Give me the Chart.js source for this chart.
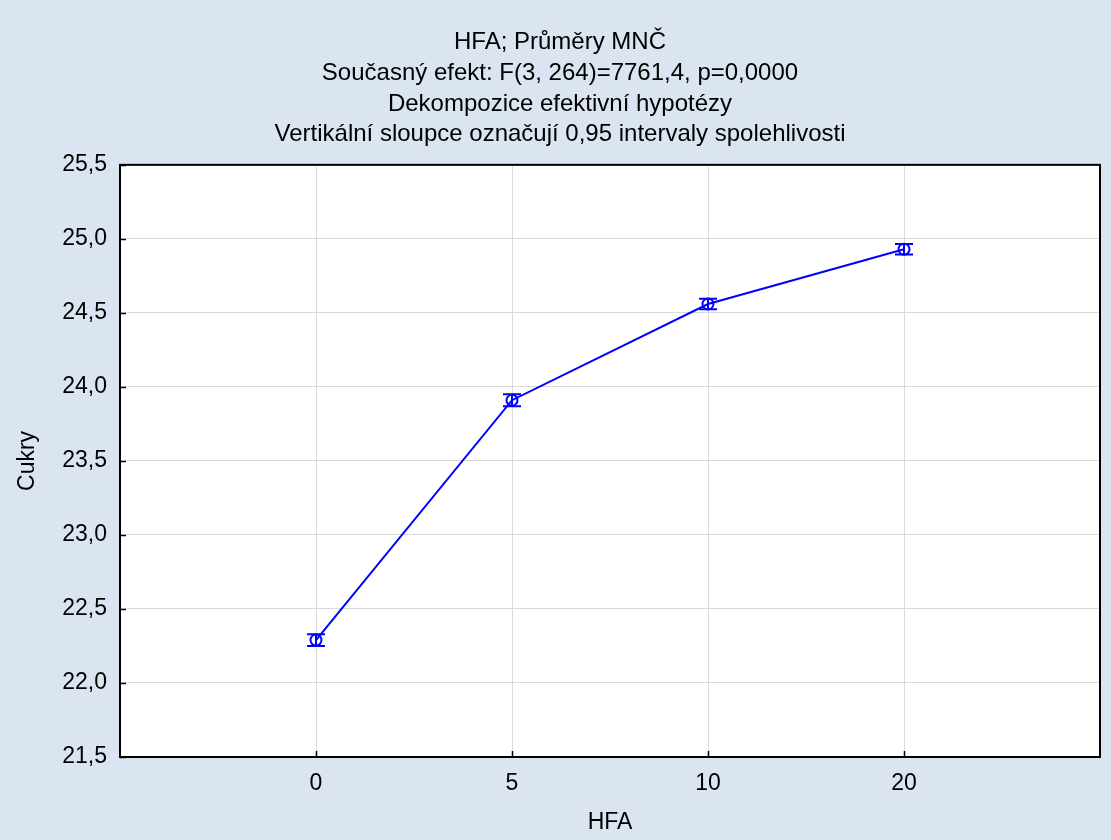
<!DOCTYPE html>
<html>
<head>
<meta charset="utf-8">
<script src="https://cdn.jsdelivr.net/npm/chart.js"></script>
<style>
  html, body { margin: 0; padding: 0; background: #dbe5f1; }
  #chart { display: block; }
</style>
</head>
<body>
<canvas id="chart" width="1111" height="840"></canvas>
<script>
// Data
const hfaLabels = ['0', '5', '10', '20'];
const cukryMeans = [22.29, 23.91, 24.56, 24.93];
const ciHalf = [0.04, 0.04, 0.035, 0.035];
const titleLines = [
    'HFA; Průměry MNČ',
    'Současný efekt: F(3, 264)=7761,4, p=0,0000',
    'Dekompozice efektivní hypotézy',
    'Vertikální sloupce označují 0,95 intervaly spolehlivosti'
];

const fontFamily = '"Liberation Sans", Arial, sans-serif';
const blue = '#0000ff';

// Background, frame, inward ticks and error bars
const decorPlugin = {
    id: 'decor',
    beforeDraw(chart) {
        const ctx = chart.ctx;
        const a = chart.chartArea;
        ctx.save();
        ctx.fillStyle = '#dbe5f1';
        ctx.fillRect(0, 0, chart.width, chart.height);
        ctx.fillStyle = '#ffffff';
        ctx.fillRect(a.left, a.top, a.right - a.left, a.bottom - a.top);
        ctx.restore();
    },
    afterDatasetsDraw(chart) {
        const ctx = chart.ctx;
        const a = chart.chartArea;
        const xs = chart.scales.x;
        const ys = chart.scales.y;
        ctx.save();
        // error bars
        ctx.strokeStyle = blue;
        ctx.lineWidth = 2;
        cukryMeans.forEach((m, i) => {
            const px = xs.getPixelForValue(i + 1);
            const top = ys.getPixelForValue(m + ciHalf[i]);
            const bot = ys.getPixelForValue(m - ciHalf[i]);
            ctx.beginPath();
            ctx.moveTo(px, top); ctx.lineTo(px, bot);
            ctx.moveTo(px - 9, top); ctx.lineTo(px + 9, top);
            ctx.moveTo(px - 9, bot); ctx.lineTo(px + 9, bot);
            ctx.stroke();
        });
        // frame
        ctx.strokeStyle = '#000000';
        ctx.lineWidth = 2;
        ctx.strokeRect(a.left, a.top, a.right - a.left, a.bottom - a.top);
        // inward ticks
        ctx.lineWidth = 1.5;
        ctx.beginPath();
        ys.ticks.forEach(t => {
            const py = Math.round(ys.getPixelForValue(t.value)) + 0.5;
            ctx.moveTo(a.left, py); ctx.lineTo(a.left + 6, py);
        });
        xs.ticks.forEach(t => {
            const px = Math.round(xs.getPixelForValue(t.value)) + 0.5;
            ctx.moveTo(px, a.bottom); ctx.lineTo(px, a.bottom - 6);
        });
        ctx.stroke();
        ctx.restore();
    }
};

new Chart(document.getElementById('chart'), {
    type: 'line',
    data: {
        datasets: [{
            data: cukryMeans.map((v, i) => ({ x: i + 1, y: v })),
            borderColor: blue,
            borderWidth: 2,
            backgroundColor: 'rgba(0,0,0,0)',
            pointRadius: 5.5,
            pointBorderWidth: 2,
            pointBorderColor: blue,
            pointBackgroundColor: 'rgba(0,0,0,0)',
            tension: 0
        }]
    },
    options: {
        responsive: false,
        animation: false,
        devicePixelRatio: 1,
        layout: { padding: { left: 9, right: 0, top: 0, bottom: 0 } },
        plugins: {
            legend: { display: false },
            tooltip: { enabled: false },
            title: {
                display: true,
                text: titleLines,
                color: '#000000',
                font: { family: fontFamily, size: 24, weight: 'normal', lineHeight: 1.29 },
                padding: { top: 26.5, bottom: 14.5 }
            }
        },
        scales: {
            x: {
                type: 'linear',
                min: 0,
                max: 5,
                afterBuildTicks: s => {
                    s.ticks = hfaLabels.map((l, i) => ({ value: i + 1 }));
                },
                afterFit: s => { s.height = 83; },
                ticks: {
                    callback: v => hfaLabels[v - 1],
                    color: '#000000',
                    padding: 13,
                    maxRotation: 0,
                    font: { family: fontFamily, size: 23 }
                },
                grid: { color: '#dadada', lineWidth: 1, drawTicks: false },
                border: { display: false },
                title: {
                    display: true,
                    text: 'HFA',
                    color: '#000000',
                    font: { family: fontFamily, size: 23 },
                    padding: { top: 0, bottom: 4 }
                }
            },
            y: {
                min: 21.5,
                max: 25.5,
                afterFit: s => { s.width = 111; },
                ticks: {
                    stepSize: 0.5,
                    callback: v => v.toFixed(1).replace('.', ','),
                    color: '#000000',
                    padding: 13,
                    font: { family: fontFamily, size: 23 }
                },
                grid: { color: '#dadada', lineWidth: 1, drawTicks: false },
                border: { display: false },
                title: {
                    display: true,
                    text: 'Cukry',
                    color: '#000000',
                    font: { family: fontFamily, size: 23 },
                    padding: { top: 5, bottom: 0 }
                }
            },
            // empty spacer on the right edge so the plot stops at x=1100
            yr: {
                position: 'right',
                afterFit: s => { s.width = 11; },
                ticks: { display: false },
                grid: { display: false },
                border: { display: false }
            }
        }
    },
    plugins: [decorPlugin]
});
</script>
</body>
</html>
